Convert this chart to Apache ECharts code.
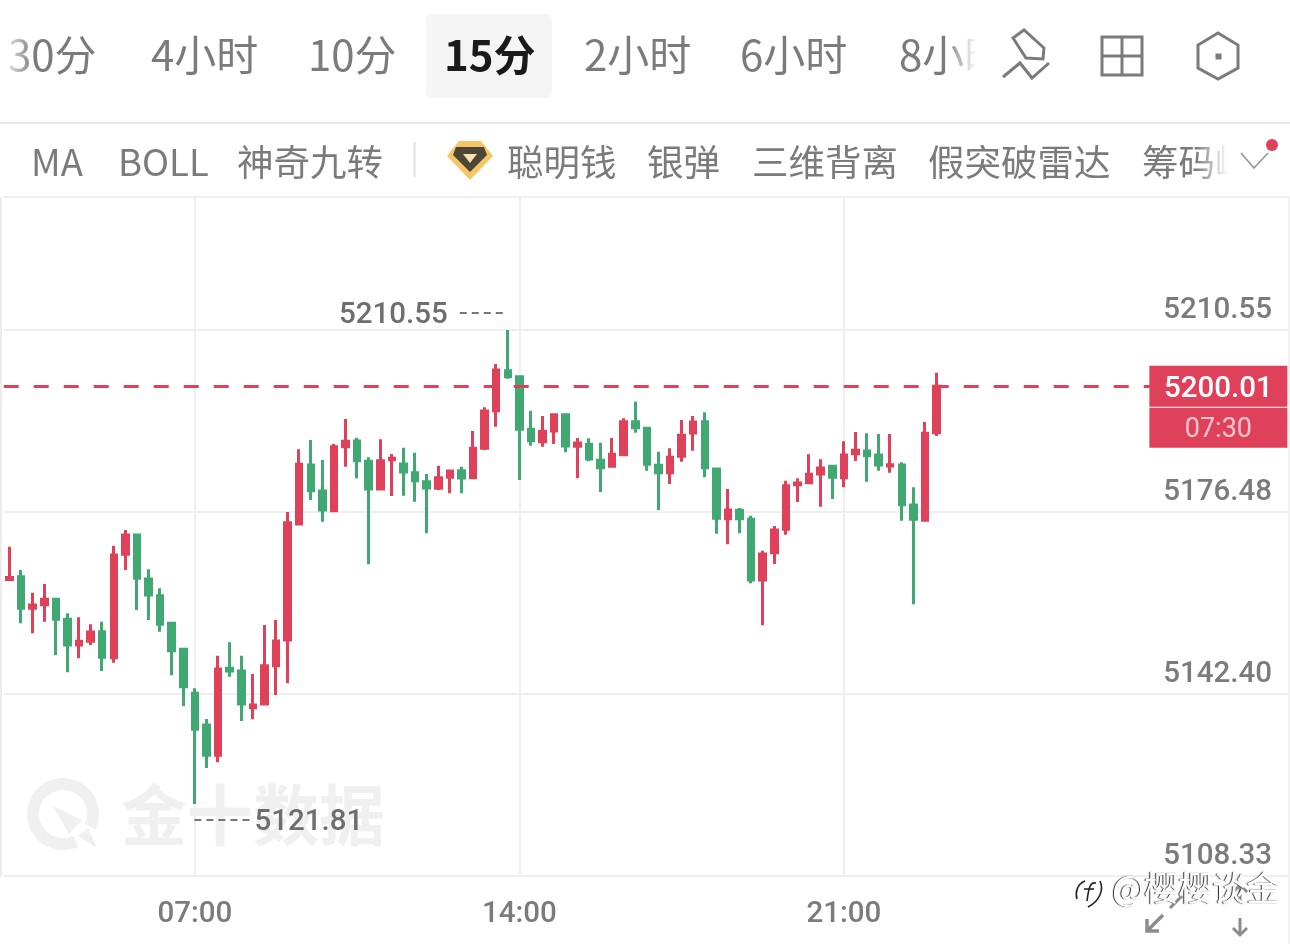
<!DOCTYPE html>
<html><head><meta charset="utf-8">
<style>html,body{margin:0;padding:0;background:#fff}#c{width:1290px;height:944px}</style>
<script src="https://cdn.jsdelivr.net/npm/echarts@6/dist/echarts.min.js"></script>
</head><body><div id="c"></div>
<script>
const opens=[5163.85,5164.37,5158.46,5159.13,5160.14,5156.40,5151.59,5152.28,5154.08,5149.21,5168.56,5172.18,5163.94,5160.81,5155.65,5150.78,5142.54,5136.61,5130.94,5147.22,5146.72,5139.85,5140.54,5147.71,5152.52,5174.24,5185.28,5180.41,5176.73,5188.71,5189.77,5185.97,5180.79,5186.27,5185.47,5183.84,5182.16,5180.92,5182.98,5184.22,5182.90,5188.41,5195.45,5202.93,5201.81,5191.96,5189.64,5191.65,5194.70,5188.78,5189.16,5186.16,5185.06,5187.21,5193.39,5192.15,5185.23,5183.84,5186.91,5191.27,5193.39,5184.53,5175.23,5176.80,5175.12,5163.75,5168.86,5173.24,5181.59,5181.97,5183.60,5185.04,5182.90,5187.40,5187.90,5187.15,5185.09,5185.28,5177.79,5174.93,5191.33];
const closes=[5164.22,5158.46,5159.07,5160.14,5156.40,5151.59,5152.28,5154.02,5149.28,5168.43,5172.18,5164.07,5160.95,5155.46,5150.52,5143.78,5135.81,5130.94,5147.09,5146.72,5140.54,5140.35,5147.71,5152.33,5174.48,5185.41,5180.47,5176.86,5188.71,5189.72,5186.09,5180.79,5186.09,5186.54,5183.97,5182.34,5180.98,5182.90,5184.16,5182.85,5188.41,5195.39,5203.07,5201.81,5191.96,5189.83,5191.59,5194.70,5188.84,5189.40,5186.41,5184.78,5187.29,5193.39,5192.26,5185.41,5183.84,5186.72,5190.84,5193.33,5184.78,5175.30,5176.86,5175.23,5163.75,5168.62,5173.11,5181.41,5181.91,5183.54,5184.72,5182.98,5187.15,5188.03,5187.02,5185.28,5185.34,5177.85,5175.12,5191.22,5200.01];
const lows=[5163.75,5155.65,5153.78,5155.95,5149.71,5146.48,5149.10,5151.59,5146.72,5148.27,5165.63,5158.14,5156.27,5154.08,5145.91,5140.17,5121.81,5128.56,5129.63,5145.65,5137.36,5137.68,5140.45,5142.23,5144.42,5174.05,5178.73,5174.67,5176.54,5184.96,5182.79,5166.69,5180.69,5179.48,5179.53,5178.41,5172.50,5180.60,5179.98,5179.98,5182.85,5188.09,5192.45,5201.44,5182.47,5188.89,5188.71,5189.21,5187.66,5182.79,5185.97,5180.23,5185.00,5187.02,5191.33,5184.22,5176.86,5181.73,5185.90,5187.96,5182.98,5172.42,5170.44,5172.50,5163.14,5155.27,5166.75,5172.23,5178.36,5181.73,5177.48,5178.92,5181.11,5186.03,5182.16,5184.22,5183.84,5174.86,5159.20,5174.89,5190.71];
const highs=[5169.99,5165.63,5161.38,5163.01,5160.33,5157.52,5156.77,5155.46,5155.95,5170.17,5173.11,5172.23,5165.76,5162.20,5155.89,5150.78,5143.48,5137.73,5149.58,5152.09,5149.58,5146.16,5155.33,5156.27,5176.48,5188.22,5189.96,5186.22,5189.21,5193.89,5190.39,5186.72,5190.09,5187.34,5188.52,5187.58,5183.60,5185.15,5184.16,5184.96,5191.65,5196.08,5204.19,5210.55,5201.81,5195.45,5194.45,5194.70,5194.96,5190.34,5190.28,5189.46,5190.34,5194.02,5197.13,5192.15,5187.77,5188.41,5193.71,5194.45,5195.15,5184.78,5180.79,5177.23,5175.79,5169.24,5173.86,5182.34,5182.79,5187.29,5186.35,5185.23,5189.72,5191.46,5191.22,5191.09,5191.09,5185.79,5181.11,5193.33,5202.56];
const yTickLabels=[5108.33,5142.40,5176.48,5210.55];
const yAxisTop=5235.45;
const xTickLabels=['07:00','14:00','21:00'];
const highValue=5210.55, highIndex=43, lowValue=5121.81, lowIndex=16;
const lastValue=5200.01, countdown='07:30';
const topTabs=[['30分',8],['4小时',151],['10分',308],['2小时',584],['6小时',740],['8小时',899]];
const activeTab='15分';
const indicators=[['MA',31],['BOLL',118],['神奇九转',237],['聪明钱',507],['银弹',647],['三维背离',752],['假突破雷达',928],['筹码峰',1142]];

const categories=[];
for(let i=0;i<111;i++){const m=(3*60+15*i)%1440;categories.push(String(Math.floor(m/60)).padStart(2,'0')+':'+String(m%60).padStart(2,'0'));}
const candles=opens.map((o,i)=>[o,closes[i],lows[i],highs[i]]);

const RED='#e0415a',GREEN='#3fa873',GRAY='#7b7b7b',LINE='#efefef';
const CJK='"Noto Sans CJK SC","Noto Sans",sans-serif';
const NUM='Roboto,"Noto Sans",sans-serif';
const txt=(text,x,y,size,fill,extra={},elExtra={})=>({type:'text',x,y,z:50,silent:true,...elExtra,style:{text,fill,font:`${extra.weight||'normal'} ${size}px ${extra.family||CJK}`,textAlign:extra.align||'left',textVerticalAlign:'middle',...(extra.style||{})}});
const rect=(x,y,w,h,fill,z=40,r=0)=>({type:'rect',z,silent:true,shape:{x,y,width:w,height:h,r},style:{fill}});
const grad=(from,to)=>({type:'linear',x:0,y:0,x2:1,y2:0,colorStops:[{offset:0,color:from},{offset:1,color:to}]});
const stroke=(c,w)=>({fill:'none',stroke:c,lineWidth:w,lineJoin:'miter'});
const pl=(points,c=GRAY,w=3,z=60)=>({type:'polyline',z,silent:true,shape:{points},style:stroke(c,w)});
const curve=(x1,y1,cpx1,cpy1,cpx2,cpy2,x2,y2)=>({type:'bezierCurve',z:80,silent:true,shape:{x1,y1,cpx1,cpy1,cpx2,cpy2,x2,y2},style:stroke('#222',1.6)});

const graphics=[
  rect(0,122,1290,2,'#e8e8e8'),
  rect(426,14,126,84,'#f5f5f5',30,6),
  ...topTabs.map(([t,x])=>txt(t,x,55,42,GRAY)),
  txt(activeTab,444,55,42,'#1a1a1a',{weight:'bold'}),
  {type:'rect',z:60,silent:true,shape:{x:0,y:20,width:34,height:70},style:{fill:grad('#ffffff','rgba(255,255,255,0)')}},
  {type:'rect',z:60,silent:true,shape:{x:945,y:20,width:32,height:70},style:{fill:grad('rgba(255,255,255,0)','#ffffff')}},
  rect(977,20,34,70,'#fff',60),
  ...indicators.map(([t,x])=>txt(t,x,162,36.5,GRAY)),
  {type:'rect',z:60,silent:true,shape:{x:1196,y:135,width:32,height:52},style:{fill:grad('rgba(255,255,255,0)','#ffffff')}},
  rect(1228,135,62,52,'#fff',60),
  rect(413,142,3,35,'#e8e8e8'),
  {type:'polygon',z:61,silent:true,shape:{points:[[459,141],[481,141],[493,156],[470,180],[447,156]]},style:{fill:'#f5c566'}},
  {type:'polygon',z:62,silent:true,shape:{points:[[456,147],[484,147],[487,155],[470,172],[453,155]]},style:{fill:'#4b4636'}},
  {type:'polygon',z:63,silent:true,shape:{points:[[463,154],[477,154],[470,163]]},style:{fill:'#f5e2b0'}},
  pl([[1241,153],[1254,168],[1268,153]],'#9a9a9a',1.8,65),
  {type:'circle',z:66,silent:true,shape:{cx:1272,cy:145,r:6},style:{fill:RED}},
  // drawing / layout / settings icons
  pl([[1003,77],[1020,63],[1032,78],[1049,63]],GRAY,3),
  {type:'polygon',z:60,silent:true,shape:{points:[[1013,38],[1024,30],[1044,48],[1043,59],[1026,58]]},style:stroke(GRAY,3)},
  {type:'rect',z:60,silent:true,shape:{x:1102,y:37,width:40,height:38},style:stroke(GRAY,3)},
  pl([[1122,37],[1122,75]]),pl([[1102,56],[1142,56]]),
  {type:'polygon',z:60,silent:true,shape:{points:[[1218,33],[1238,45],[1238,68],[1218,79],[1198,68],[1198,45]]},style:stroke(GRAY,3)},
  rect(1215.5,53.5,6,6,GRAY,60),
  // chart frame
  rect(0,197,2,680,'#ececec',3),
  rect(1288,197,2,747,'#f2f2f2',45),
  // 金十数据 watermark
  {type:'arc',z:1,silent:true,shape:{cx:63,cy:814,r:30,startAngle:65*Math.PI/180,endAngle:25*Math.PI/180,clockwise:true},style:{fill:'none',stroke:'#f0f0f0',lineWidth:12}},
  {type:'polygon',z:1,silent:true,shape:{points:[[53,806],[82,820],[69,834]]},style:{fill:'#f0f0f0'}},
  {type:'polygon',z:1,silent:true,shape:{points:[[78,836],[88,828],[97,848]]},style:{fill:'#f0f0f0'}},
  txt('金十数据',121,815,66,'#f0f0f0',{weight:'bold'},{z:1}),
  // weibo mark and expand arrows
  pl([[1147,931],[1163,915]],'#8c8c8c',3.5,70),pl([[1147,919],[1147,931],[1159,931]],'#8c8c8c',3.5,70),
  pl([[1170,908],[1182,896]],'#8c8c8c',3,70),
  pl([[1240,900],[1240,886]],'#8c8c8c',3,70),pl([[1233,892],[1240,885],[1247,892]],'#8c8c8c',3,70),
  pl([[1240,918],[1240,935]],'#8c8c8c',3,70),pl([[1233,928],[1240,935],[1247,928]],'#8c8c8c',3,70),
  curve(1085,881,1077,884,1075,893,1077,899),
  curve(1100,881,1104,889,1100,901,1088,907),
  curve(1096,883,1091,882,1089,885,1087,901),
  pl([[1084,889],[1094,889]],'#222',1.6,80),
  txt('@樱樱谈金',1112,888,34,'#ffffff',{style:{textShadowColor:'#222',textShadowBlur:1,textShadowOffsetX:-1,textShadowOffsetY:0}},{z:80}),
];

const dashes4='path://M0 0h7v2h-7zM12 0h7v2h-7zM24 0h7v2h-7zM36 0h7v2h-7z';
const dashes5='path://M0 0h7v2h-7zM12 0h7v2h-7zM24 0h7v2h-7zM36 0h7v2h-7zM48 0h7v2h-7z';
const labelStyle={fontFamily:NUM,fontSize:29.5,color:'#6e6e6e',fontWeight:500};
const ghost={symbol:'rect',symbolSize:[1,1],itemStyle:{color:'rgba(0,0,0,0)'}};
const boxIndex=104;

const chart=echarts.init(document.getElementById('c'),null,{renderer:'canvas',width:1290,height:944});
chart.setOption({
  animation:false,
  backgroundColor:'#ffffff',
  tooltip:{show:false},
  grid:{left:3.7,top:197,width:111*11.607,height:679,containLabel:false},
  xAxis:{type:'category',data:categories,boundaryGap:true,
    axisLine:{show:false},axisTick:{show:false},
    axisLabel:{interval:(i,v)=>xTickLabels.includes(v)&&i<96,margin:24,fontFamily:NUM,fontSize:29.5,color:GRAY,fontWeight:500},
    splitLine:{show:true,alignWithLabel:true,interval:(i,v)=>xTickLabels.includes(v)&&i<96,lineStyle:{color:LINE,width:2}}},
  yAxis:{type:'value',position:'right',min:yTickLabels[0],max:yAxisTop,scale:true,
    axisLine:{show:false},
    axisTick:{show:false,customValues:[...yTickLabels,yAxisTop]},
    axisLabel:{inside:true,margin:18,customValues:yTickLabels,formatter:v=>v.toFixed(2),
      fontFamily:NUM,fontSize:29.5,color:GRAY,fontWeight:500,verticalAlign:'bottom',padding:[0,0,4,0]},
    splitLine:{show:true,lineStyle:{color:LINE,width:2}}},
  series:[{type:'candlestick',data:candles,barWidth:6,clip:true,silent:true,
    itemStyle:{color:RED,color0:GREEN,borderColor:RED,borderColor0:GREEN,borderWidth:3},
    markLine:{silent:true,symbol:'none',animation:false,label:{show:false},
      lineStyle:{color:RED,type:[15,15],width:3,opacity:1},data:[{yAxis:lastValue}]},
    markPoint:{silent:true,animation:false,z:6,data:[
      {coord:[highIndex,highValue],symbol:dashes4,symbolSize:[43,2],symbolOffset:[-26.5,-17],itemStyle:{color:'#777'},label:{show:false}},
      {coord:[highIndex,highValue],...ghost,label:{show:true,position:'inside',offset:[-114.5,-14],formatter:highValue.toFixed(2),...labelStyle}},
      {coord:[lowIndex,lowValue],symbol:dashes5,symbolSize:[55,2],symbolOffset:[27,16],itemStyle:{color:'#777'},label:{show:false}},
      {coord:[lowIndex,lowValue],...ghost,label:{show:true,position:'inside',offset:[114,19],formatter:lowValue.toFixed(2),...labelStyle}},
      {coord:[boxIndex,lastValue],symbol:'rect',symbolSize:[138,41],symbolOffset:[3.7,0],itemStyle:{color:RED},
        label:{show:true,position:'inside',offset:[0,3],formatter:lastValue.toFixed(2),fontFamily:NUM,fontSize:29.5,fontWeight:500,color:'#fff'}},
      {coord:[boxIndex,lastValue],symbol:'rect',symbolSize:[138,40],symbolOffset:[3.7,41.5],itemStyle:{color:RED},
        label:{show:true,position:'inside',offset:[0,2],formatter:countdown,fontFamily:NUM,fontSize:27,color:'#fbc6cd'}}
    ]}}],
  graphic:{elements:graphics}
});
</script></body></html>
